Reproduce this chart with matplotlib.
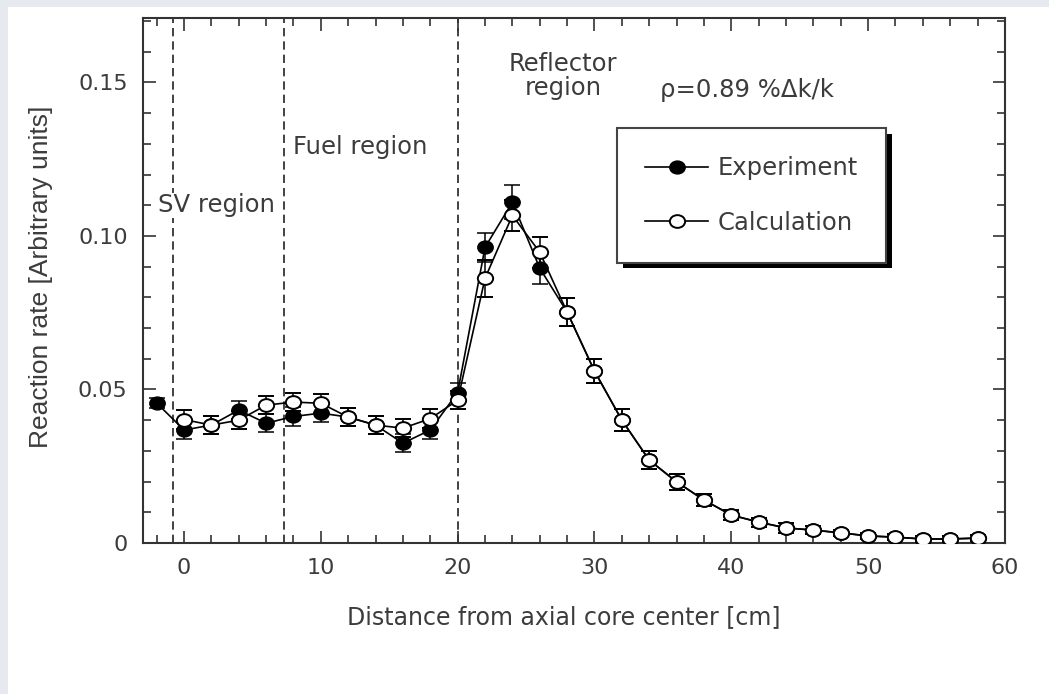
import matplotlib
matplotlib.use("Agg")
import matplotlib.pyplot as plt
import matplotlib.patheffects as pe
from matplotlib.patches import Rectangle
from matplotlib.path import Path
from matplotlib.transforms import Affine2D
from matplotlib.ticker import MultipleLocator, FuncFormatter

# Axial reaction rate distribution: measurement vs calculation
exp_pos = [-2, 0, 2, 4, 6, 8, 10, 12, 14, 16, 18, 20, 22, 24, 26, 28, 30,
           32, 34, 36, 38, 40, 42, 44, 46, 48, 50, 52, 54, 56, 58]
exp_rate = [0.0456, 0.0368, 0.0384, 0.0433, 0.0390, 0.0412, 0.0423, 0.0410,
            0.0384, 0.0325, 0.0368, 0.0490, 0.0963, 0.1110, 0.0895, 0.0752,
            0.0560, 0.0400, 0.0270, 0.0199, 0.0140, 0.0091, 0.0068, 0.0049,
            0.0042, 0.0033, 0.0023, 0.0019, 0.0013, 0.0013, 0.0016]
exp_err = [0.0015, 0.003, 0.003, 0.003, 0.003, 0.003, 0.003, 0.003, 0.003,
           0.003, 0.003, 0.003, 0.0047, 0.0055, 0.005, 0.0045, 0.004, 0.0035,
           0.003, 0.0025, 0.002, 0.0015, 0.0015, 0.0015, 0.0012, 0.001, 0.001,
           0.001, 0.001, 0.001, 0.001]

calc_pos = [0, 2, 4, 6, 8, 10, 12, 14, 16, 18, 20, 22, 24, 26, 28, 30, 32,
            34, 36, 38, 40, 42, 44, 46, 48, 50, 52, 54, 56, 58]
calc_rate = [0.0402, 0.0384, 0.0400, 0.0449, 0.0459, 0.0455, 0.0410, 0.0384,
             0.0374, 0.0405, 0.0465, 0.0862, 0.1067, 0.0947, 0.0752, 0.0560,
             0.0400, 0.0270, 0.0199, 0.0140, 0.0091, 0.0068, 0.0049, 0.0042,
             0.0033, 0.0023, 0.0019, 0.0013, 0.0013, 0.0016]
calc_err = [0.003, 0.003, 0.003, 0.003, 0.003, 0.003, 0.003, 0.003, 0.003,
            0.003, 0.003, 0.006, 0.005, 0.005, 0.0045, 0.004, 0.0035, 0.003,
            0.0025, 0.002, 0.0015, 0.0015, 0.0015, 0.0012, 0.001, 0.001, 0.001,
            0.001, 0.001, 0.001]

region_bounds = [-0.8, 7.3, 20]

text_col = "#3c3c3c"
plt.rcParams["font.family"] = ["DejaVu Sans"]

fig = plt.figure(figsize=(10.49, 6.94), dpi=100, facecolor="#e6e9ee")
fig.patches.append(Rectangle((8 / 1049, 0), 1, (694 - 7) / 694,
                             transform=fig.transFigure, facecolor="white",
                             edgecolor="none", zorder=-5))
ax = fig.add_axes([0.1363, 0.2176, 0.8217, 0.7565])
ax.set_zorder(2)

# slightly wide ellipse used as the point marker
ellipse = Path.unit_circle().transformed(Affine2D().scale(1.2, 1.0))

for xb in region_bounds:
    ax.axvline(xb, color="#222222", lw=1.2, ls=(0, (5, 3)), zorder=1)

exp = ax.errorbar(exp_pos, exp_rate, yerr=exp_err, color="black", lw=1.2,
                  marker=ellipse, ms=11, mfc="black", mec="black", mew=1.1,
                  capsize=6, elinewidth=1.1, capthick=1.1, zorder=3)
calc = ax.errorbar(calc_pos, calc_rate, yerr=calc_err, color="black", lw=1.2,
                   marker=ellipse, ms=11, mfc="white", mec="black", mew=1.4,
                   capsize=6, elinewidth=1.1, capthick=1.1, zorder=4)

ax.set_xlim(-3, 60)
ax.set_ylim(0, 0.171)
ax.xaxis.set_major_locator(MultipleLocator(10))
ax.xaxis.set_minor_locator(MultipleLocator(2))
ax.yaxis.set_major_locator(MultipleLocator(0.05))
ax.yaxis.set_minor_locator(MultipleLocator(0.01))
ax.yaxis.set_major_formatter(FuncFormatter(lambda v, p: "0" if abs(v) < 1e-9 else f"{v:.2f}"))

ax.tick_params(which="both", direction="in", top=True, right=True,
               color="#333333", width=1.2, labelsize=16, labelcolor=text_col)
ax.tick_params(which="major", length=9, pad=11)
ax.tick_params(which="minor", length=6)
for s in ax.spines.values():
    s.set_color("#333333")
    s.set_linewidth(1.5)

ax.set_xlabel("Distance from axial core center [cm]", fontsize=17, color=text_col)
ax.xaxis.set_label_coords(0.488, -0.118)
ax.set_ylabel("Reaction rate [Arbitrary units]", fontsize=19,
              family=["Liberation Sans Narrow", "Liberation Sans"], color=text_col)
ax.yaxis.set_label_coords(-0.104, 0.507)

ax.text(-1.9, 0.110, "SV region", fontsize=17.5, color=text_col, va="center",
        ha="left", bbox=dict(facecolor="white", edgecolor="none", pad=0.5), zorder=2)
ax.text(7.96, 0.1289, "Fuel region", fontsize=17.5, color=text_col,
        va="center", ha="left", zorder=2)
ax.text(27.7, 0.152, "Reflector\nregion", fontsize=17.5, color=text_col,
        va="center", ha="center", linespacing=1.0, zorder=2)
ax.text(34.8, 0.1474, "ρ=0.89 %Δk/k", fontsize=17.5, color=text_col,
        va="center", ha="left", zorder=2)

leg = ax.legend([exp[0], calc[0]], ["Experiment", "Calculation"],
                loc="upper left", bbox_to_anchor=(0.55, 0.79), fontsize=17.5,
                frameon=True, fancybox=False, borderaxespad=0, borderpad=1.15,
                handlelength=2.6, handletextpad=0.4, labelspacing=1.25,
                labelcolor=text_col)
frame = leg.get_frame()
frame.set_edgecolor("#444444")
frame.set_linewidth(1.5)
frame.set_alpha(1)
frame.set_path_effects([pe.SimplePatchShadow(offset=(4, -4), shadow_rgbFace="black", alpha=1),
                        pe.Normal()])
leg.set_zorder(5)

fig.savefig("out.png", dpi=100, facecolor=fig.get_facecolor())
